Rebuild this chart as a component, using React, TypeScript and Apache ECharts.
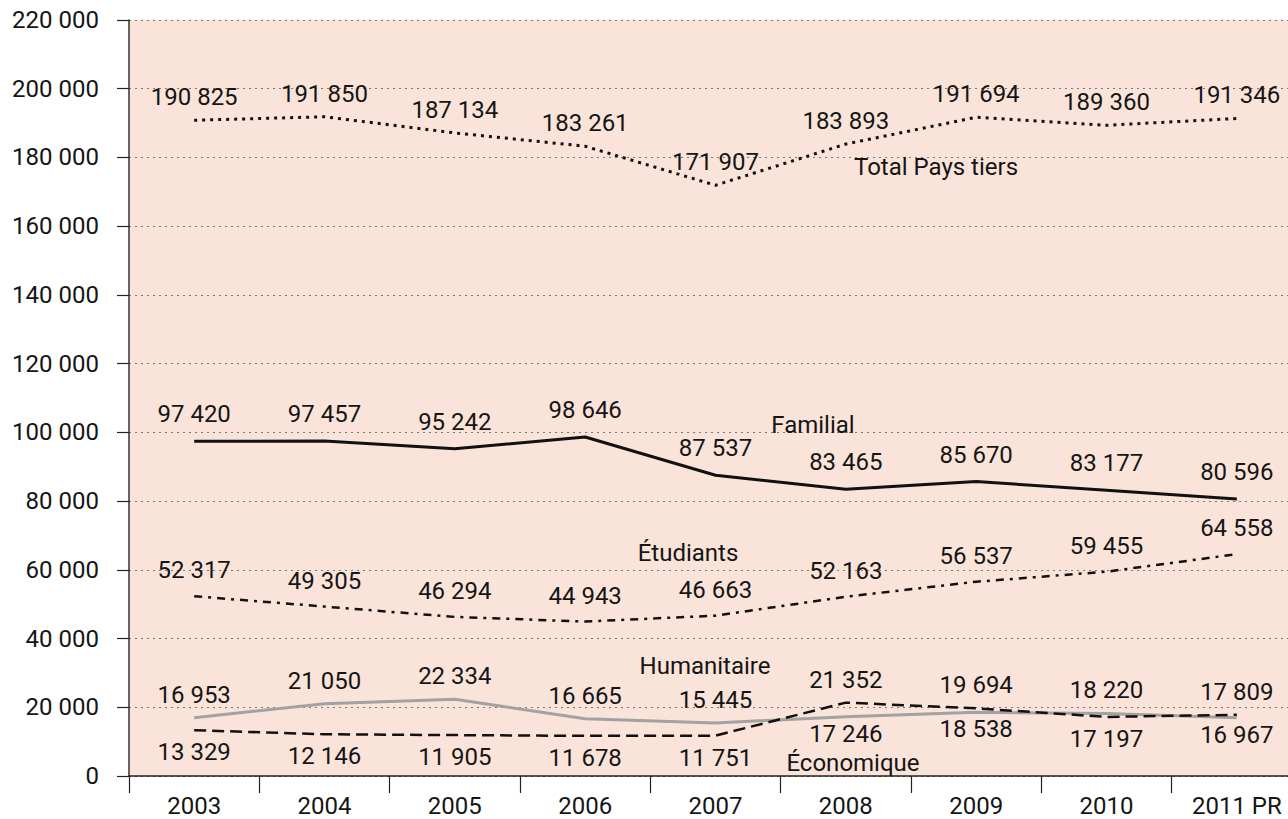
import React, { useEffect, useRef } from "react";
import * as echarts from "echarts";

const years = ["2003", "2004", "2005", "2006", "2007", "2008", "2009", "2010", "2011 PR"];
const totalPaysTiers = [190825, 191850, 187134, 183261, 171907, 183893, 191694, 189360, 191346];
const familial = [97420, 97457, 95242, 98646, 87537, 83465, 85670, 83177, 80596];
const etudiants = [52317, 49305, 46294, 44943, 46663, 52163, 56537, 59455, 64558];
const humanitaire = [16953, 21050, 22334, 16665, 15445, 17246, 18538, 18220, 16967];
const economique = [13329, 12146, 11905, 11678, 11751, 21352, 19694, 17197, 17809];
const yTicks = { min: 0, max: 220000, interval: 20000 };

const humLabelPos = ["top", "top", "top", "top", "top", "bottom", "bottom", "top", "bottom"];
const ecoLabelPos = ["bottom", "bottom", "bottom", "bottom", "bottom", "top", "top", "bottom", "top"];

const FONT = "Roboto";
const TXT = "#151515";

const fmt = (v: number) => String(Math.round(v)).replace(/\B(?=(\d{3})+(?!\d))/g, " ");

export default function App() {
  const ref = useRef<HTMLDivElement>(null);
  useEffect(() => {
    if (!ref.current) return;
    const chart = echarts.init(ref.current, null, { renderer: "svg" });
    const baseLabel = {
      show: true,
      fontFamily: FONT,
      fontSize: 24,
      color: TXT,
      formatter: (p: any) => fmt(p.value),
    };
    const sym = {
      symbol: "circle",
      symbolSize: 0.1,
      showSymbol: true,
      itemStyle: { color: "rgba(0,0,0,0)" },
    };
    const withPos = (vals: number[], pos: string[], dTop: number, dBottom: number) =>
      vals.map((v, i) => ({
        value: v,
        label: { position: pos[i], distance: pos[i] === "top" ? dTop : dBottom },
      }));
    const txt = (text: string, x: number, y: number) => ({
      type: "text",
      x,
      y,
      z: 10,
      style: { text, font: `24px ${FONT}`, fill: TXT, textAlign: "center", textVerticalAlign: "middle" },
    });
    chart.setOption({
      animation: false,
      textStyle: { fontFamily: FONT },
      grid: {
        left: 129,
        right: 0,
        top: 20,
        bottom: 43,
        show: true,
        backgroundColor: "#FAE4DA",
        borderWidth: 0,
      },
      xAxis: {
        type: "category",
        data: years,
        boundaryGap: true,
        axisLine: { lineStyle: { color: "#222", width: 1.5 } },
        axisTick: { show: true, length: 17, lineStyle: { color: "#222", width: 1.2 } },
        axisLabel: { fontFamily: FONT, fontSize: 24, color: TXT, margin: 18 },
        splitLine: { show: false },
      },
      yAxis: {
        type: "value",
        min: yTicks.min,
        max: yTicks.max,
        interval: yTicks.interval,
        axisLine: { show: true, lineStyle: { color: "#333", width: 1.5 } },
        axisTick: { show: true, length: 12, lineStyle: { color: "#222", width: 1.2 } },
        axisLabel: { fontFamily: FONT, fontSize: 24, color: TXT, margin: 30, formatter: (v: number) => fmt(v) },
        splitLine: { show: true, lineStyle: { color: "#7a7a7a", width: 1, type: [2, 4] } },
      },
      series: [
        {
          name: "Total Pays tiers",
          type: "line",
          data: totalPaysTiers,
          ...sym,
          lineStyle: { color: "#111", width: 3, type: [3, 5] },
          label: { ...baseLabel, position: "top", distance: 11 },
        },
        {
          name: "Familial",
          type: "line",
          data: familial,
          ...sym,
          lineStyle: { color: "#111", width: 3, type: "solid" },
          label: { ...baseLabel, position: "top", distance: 15 },
        },
        {
          name: "Étudiants",
          type: "line",
          data: etudiants,
          ...sym,
          lineStyle: { color: "#111", width: 2.5, type: [8, 6, 3, 6] },
          label: { ...baseLabel, position: "top", distance: 14 },
        },
        {
          name: "Humanitaire",
          type: "line",
          data: withPos(humanitaire, humLabelPos, 11, 5),
          ...sym,
          lineStyle: { color: "#a2a2a2", width: 3, type: "solid" },
          label: { ...baseLabel },
        },
        {
          name: "Économique",
          type: "line",
          data: withPos(economique, ecoLabelPos, 11, 10),
          ...sym,
          lineStyle: { color: "#111", width: 2.5, type: [12, 6] },
          label: { ...baseLabel },
        },
      ],
      graphic: [
        txt("Total Pays tiers", 936, 167),
        txt("Familial", 813, 425),
        txt("Étudiants", 688, 553),
        txt("Humanitaire", 705, 666),
        txt("Économique", 853, 763),
      ],
    });
    return () => chart.dispose();
  }, []);
  return (
    <div style={{ position: "absolute", left: 0, top: 0, width: 1288, height: 819, overflow: "hidden", background: "#fff" }}>
      <div ref={ref} style={{ width: 1302, height: 819 }} />
    </div>
  );
}
